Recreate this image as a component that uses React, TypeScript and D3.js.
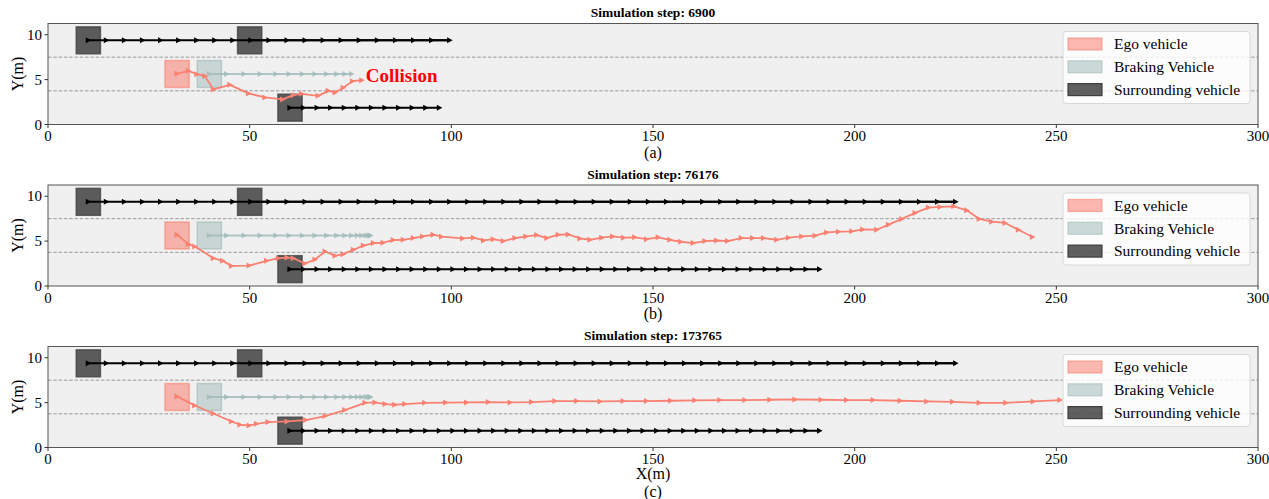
import * as d3 from "d3";

// ---- data ----
const titles = ["Simulation step: 6900", "Simulation step: 76176", "Simulation step: 173765"];
const subLabels = ["(a)", "(b)", "(c)"];
const xTicks = [0, 50, 100, 150, 200, 250, 300];
const yTicks = [0, 5, 10];
const laneLines = [3.75, 7.5];
const legendLabels = ["Ego vehicle", "Braking Vehicle", "Surrounding vehicle"];

// vehicle start boxes (centre x, centre y)
const egoStart = [32, 5.625];
const brakingStart = [40, 5.625];
const surroundStarts = [[10, 9.375], [50, 9.375], [60, 1.875]];
const vehicleSize = [6, 3];

// surrounding vehicles: top lane and bottom lane positions
const topLaneY = 9.375;
const bottomLaneY = 1.875;
const topLaneX = [10, 14.48, 18.96, 23.44, 27.92, 32.4, 36.88, 41.36, 45.84, 50.32, 54.8, 59.28, 63.76, 68.24,
  72.72, 77.2, 81.68, 86.16, 90.64, 95.12, 99.6, 104.08, 108.56, 113.04, 117.52, 122, 126.48, 130.96, 135.44,
  139.92, 144.4, 148.88, 153.36, 157.84, 162.32, 166.8, 171.28, 175.76, 180.24, 184.72, 189.2, 193.68, 198.16,
  202.64, 207.12, 211.6, 216.08, 220.56, 225.04];
const bottomLaneX = [60, 63.37, 66.73, 70.1, 73.47, 76.84, 80.2, 83.57, 86.94, 90.3, 93.67, 97.04, 100.4, 103.77,
  107.14, 110.51, 113.87, 117.24, 120.61, 123.97, 127.34, 130.71, 134.07, 137.44, 140.81, 144.18, 147.54, 150.91,
  154.28, 157.64, 161.01, 164.38, 167.74, 171.11, 174.48, 177.85, 181.21, 184.58, 187.95, 191.31];
const topLaneCount = [21, 49, 49];
const bottomLaneCount = [12, 40, 40];

// braking vehicle (decelerating)
const brakingX = [40, 44.3, 48.6, 52.6, 56.5, 59.8, 63.1, 66.2, 69.1, 71.6, 73.6, 75.3, 76.7, 77.8, 78.8, 79.4, 79.8, 80.0];
const brakingY = 5.625;
const brakingCount = [12, 18, 18];

// ego trajectories [x, y]
const egoA = [[32, 5.65], [34.8, 5.98], [36.9, 5.61], [38.9, 5.39], [41.0, 3.9], [45.1, 4.42], [49.7, 3.46],
  [53.8, 3.01], [58.2, 2.79], [60.8, 3.27], [62.9, 3.42], [67.0, 3.19], [69.5, 3.75], [71.2, 3.57], [73.2, 4.09],
  [75.5, 4.83], [77.8, 4.94]];
const egoB = [[32, 5.71], [34.8, 4.67], [36.4, 4.4], [41.0, 3.1], [43.3, 2.8], [45.5, 2.24], [49.9, 2.27],
  [54.2, 2.8], [57.1, 3.1], [59.3, 3.17], [60.8, 3.1], [63.7, 2.5], [66.2, 2.95], [68.7, 3.84], [71.2, 3.36],
  [73.2, 3.55], [75.7, 4.03], [78.2, 4.51], [80.7, 4.78], [83.1, 4.82], [85.6, 5.11], [88.1, 5.15], [90.6, 5.34],
  [92.9, 5.52], [95.5, 5.71], [97.6, 5.49], [102.8, 5.3], [105.5, 5.38], [108.0, 5.07], [110.4, 5.22], [112.9, 5.0],
  [115.8, 5.34], [118.5, 5.52], [121.2, 5.67], [123.7, 5.34], [126.5, 5.71], [129.0, 5.75], [131.9, 5.3],
  [134.4, 5.15], [137.3, 5.38], [140.0, 5.52], [142.7, 5.38], [145.5, 5.42], [148.4, 5.22], [151.3, 5.42],
  [154.2, 5.15], [156.9, 4.93], [160.0, 4.78], [162.9, 5.0], [165.8, 5.07], [168.5, 5.0], [171.9, 5.34],
  [174.7, 5.34], [177.4, 5.34], [180.7, 5.15], [183.6, 5.38], [186.9, 5.52], [190.2, 5.6], [193.1, 5.97],
  [196.0, 6.05], [199.3, 6.09], [202.0, 6.3], [205.5, 6.27], [208.4, 6.83], [211.7, 7.47], [215.0, 8.14],
  [218.3, 8.73], [221.2, 8.81], [224.6, 8.88], [227.8, 8.43], [230.9, 7.47], [234.0, 7.17], [237.3, 7.02],
  [240.6, 6.27], [244.1, 5.45]];
const egoC = [[32, 5.69], [36.4, 4.68], [41.0, 3.79], [45.5, 2.9], [47.6, 2.53], [49.9, 2.45], [51.7, 2.64],
  [54.6, 2.83], [59.3, 2.9], [63.9, 3.05], [68.7, 3.5], [73.6, 4.17], [78.6, 4.98], [81.1, 5.02], [83.6, 4.84],
  [86.0, 4.76], [88.5, 4.84], [93.4, 4.98], [98.6, 5.0], [103.8, 5.02], [109.2, 5.06], [114.6, 5.02],
  [119.9, 5.06], [125.7, 5.17], [131.1, 5.17], [136.9, 5.13], [142.6, 5.17], [148.4, 5.17], [154.4, 5.21],
  [160.4, 5.25], [166.6, 5.28], [172.8, 5.28], [179.0, 5.32], [185.2, 5.36], [191.7, 5.32], [198.0, 5.28],
  [204.6, 5.28], [211.3, 5.21], [217.9, 5.13], [224.3, 5.09], [230.9, 4.98], [237.5, 4.98], [244.3, 5.13],
  [250.9, 5.28]];
const egoTracks = [egoA, egoB, egoC];

const EGO = "#fa8072";
const BRAKE = "#a0bab8";
const FONT = "'Liberation Serif', 'Times New Roman', serif";

const W = 1269, H = 499;
const left = 48, right = 1258;
const panelTop0 = 23.5, panelH = 101, panelGap = 161.5;

const tri = "M-2.6,-3L3,0L-2.6,3Z";

const Panel = ({ i }: { i: number }) => {
  const top = panelTop0 + i * panelGap;
  const bottom = top + panelH;
  const x = d3.scaleLinear().domain([0, 300]).range([left, right]);
  const y = d3.scaleLinear().domain([0, 11.25]).range([bottom, top]);
  const line = d3.line<number[]>().x((d) => x(d[0])).y((d) => y(d[1]));

  const topA = topLaneX.slice(0, topLaneCount[i]).map((v) => [v, topLaneY]);
  const topB = topLaneX.slice(9, topLaneCount[i]).map((v) => [v, topLaneY]);
  const bot = bottomLaneX.slice(0, bottomLaneCount[i]).map((v) => [v, bottomLaneY]);
  const brk = brakingX.slice(0, brakingCount[i]).map((v) => [v, brakingY]);
  const ego = egoTracks[i];

  const box = (c: number[]) => ({
    x: x(c[0] - vehicleSize[0] / 2),
    y: y(c[1] + vehicleSize[1] / 2),
    w: x(c[0] + vehicleSize[0] / 2) - x(c[0] - vehicleSize[0] / 2),
    h: y(c[1] - vehicleSize[1] / 2) - y(c[1] + vehicleSize[1] / 2),
  });

  const markers = (pts: number[][], color: string, op = 1) =>
    pts.map((d, k) => (
      <path key={k} d={tri} transform={`translate(${x(d[0])},${y(d[1])})`} fill={color} opacity={op} />
    ));

  const eb = box(egoStart);
  const bb = box(brakingStart);
  const legTop = top + 8;

  return (
    <g>
      <rect x={left} y={top} width={right - left} height={panelH} fill="#f0f0f0" />
      {laneLines.map((v) => (
        <line key={v} x1={left} x2={right} y1={y(v)} y2={y(v)} stroke="#999" strokeWidth={1} strokeDasharray="3.5,1.8" />
      ))}

      {/* vehicle boxes */}
      <rect x={eb.x} y={eb.y} width={eb.w} height={eb.h} fill={EGO} fillOpacity={0.55} stroke={EGO} strokeOpacity={0.6} strokeWidth={1.5} />
      <rect x={bb.x} y={bb.y} width={bb.w} height={bb.h} fill={BRAKE} fillOpacity={0.5} stroke={BRAKE} strokeOpacity={0.6} strokeWidth={1.5} />
      {surroundStarts.map((c, k) => {
        const b = box(c);
        return <rect key={k} x={b.x} y={b.y} width={b.w} height={b.h} fill="#000" fillOpacity={0.62} stroke="#444" strokeWidth={1.5} strokeOpacity={0.8} />;
      })}

      {/* trajectories */}
      <path d={line(brk) || ""} fill="none" stroke={BRAKE} strokeWidth={2} opacity={0.8} />
      {markers(brk, BRAKE, 0.8)}
      <path d={line(topA) || ""} fill="none" stroke="#000" strokeWidth={2} />
      <path d={line(topB) || ""} fill="none" stroke="#000" strokeWidth={2} />
      {markers(topA, "#000")}
      <path d={line(bot) || ""} fill="none" stroke="#000" strokeWidth={2} />
      {markers(bot, "#000")}
      <path d={line(ego) || ""} fill="none" stroke={EGO} strokeWidth={1.8} strokeLinejoin="round" />
      {markers(ego, EGO)}

      {i === 0 && (
        <text x={x(78.8)} y={y(4.7)} fontFamily={FONT} fontSize={19} fontWeight="bold" fill="#ff0000">Collision</text>
      )}

      {/* frame */}
      <rect x={left} y={top} width={right - left} height={panelH} fill="none" stroke="#555" strokeWidth={1} />

      {/* axes ticks */}
      {xTicks.map((t) => (
        <g key={t}>
          <line x1={x(t)} x2={x(t)} y1={bottom} y2={bottom + 3.5} stroke="#333" />
          <text x={x(t)} y={bottom + 16.5} textAnchor="middle" fontFamily={FONT} fontSize={15}>{t}</text>
        </g>
      ))}
      {yTicks.map((t) => (
        <g key={t}>
          <line x1={left - 3.5} x2={left} y1={y(t)} y2={y(t)} stroke="#333" />
          <text x={left - 6} y={y(t) + 5} textAnchor="end" fontFamily={FONT} fontSize={15}>{t}</text>
        </g>
      ))}
      <text transform={`translate(${23},${(top + bottom) / 2}) rotate(-90)`} textAnchor="middle" fontFamily={FONT} fontSize={16}>Y(m)</text>
      <text x={(left + right) / 2} y={top - 6.5} textAnchor="middle" fontFamily={FONT} fontSize={13.5} fontWeight="bold">{titles[i]}</text>
      {i === 2 ? (
        <>
          <text x={(left + right) / 2} y={bottom + 31.5} textAnchor="middle" fontFamily={FONT} fontSize={16}>X(m)</text>
          <text x={(left + right) / 2} y={bottom + 49.5} textAnchor="middle" fontFamily={FONT} fontSize={16}>{subLabels[i]}</text>
        </>
      ) : (
        <text x={(left + right) / 2} y={bottom + 33} textAnchor="middle" fontFamily={FONT} fontSize={16}>{subLabels[i]}</text>
      )}

      {/* legend */}
      <rect x={1063} y={legTop} width={187} height={72} rx={3} fill="#fff" fillOpacity={0.8} stroke="#d8d8d8" strokeWidth={1} />
      {legendLabels.map((lab, k) => {
        const cy = legTop + 12.5 + k * 22.8;
        const fill = k === 0 ? EGO : k === 1 ? BRAKE : "#000";
        return (
          <g key={lab}>
            <rect x={1068} y={cy - 6} width={34} height={12}
              fill={fill} fillOpacity={k === 2 ? 0.62 : 0.55}
              stroke={k === 2 ? "#333" : fill} strokeOpacity={k === 2 ? 0.9 : 0.6} strokeWidth={1.2} />
            <text x={1114} y={cy + 5.3} fontFamily={FONT} fontSize={15.5}>{lab}</text>
          </g>
        );
      })}
    </g>
  );
};

export default function App() {
  return (
    <div style={{ position: "absolute", left: 0, top: 0 }}>
      <svg width={W} height={H} style={{ display: "block", background: "#fff" }}>
        {[0, 1, 2].map((i) => <Panel key={i} i={i} />)}
      </svg>
    </div>
  );
}
